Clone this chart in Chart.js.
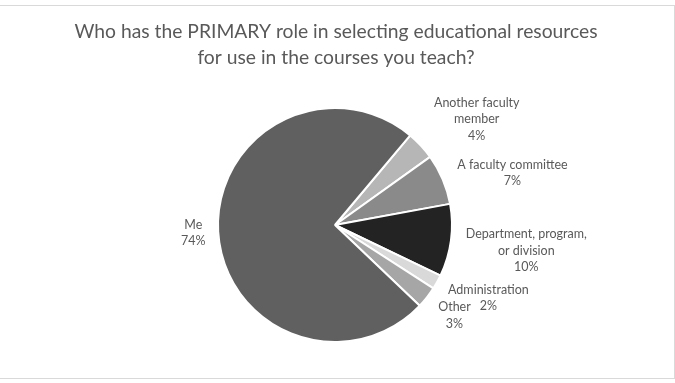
<!DOCTYPE html>
<html>
<head>
<meta charset="utf-8">
<script src="https://cdn.jsdelivr.net/npm/chart.js@4"></script>
<style>
  html, body { margin: 0; padding: 0; background: #fff; }
  #wrap { position: relative; width: 675px; height: 383px; overflow: hidden; }
  #frame { position: absolute; left: -1px; top: 5px; width: 674px; height: 372px; border: 1px solid #d9d9d9; }
  canvas { position: absolute; left: 0; top: 0; }
</style>
</head>
<body>
<div id="wrap">
  <div id="frame"></div>
  <canvas id="pie" width="675" height="383"></canvas>
</div>
<script>
// ─── DATA ─────────────────────────────────────────────────────────────
const titleLines = ['Who has the PRIMARY role in selecting educational resources', 'for use in the courses you teach?'];
const categories = ['Another faculty member', 'A faculty committee', 'Department, program, or division', 'Administration', 'Other', 'Me'];
const shares     = [4, 7, 10, 2, 3, 74];
const labelLines = [
  ['Another faculty', 'member'],
  ['A faculty committee'],
  ['Department, program,', 'or division'],
  ['Administration'],
  ['Other'],
  ['Me'],
];

// ─── STYLE / LAYOUT ───────────────────────────────────────────────────
const sliceColors = ['#b6b6b6', '#8a8a8a', '#232323', '#d9d9d9', '#a6a6a6', '#606060'];
const labelPad    = [60, 68, 76, 53, 33, 25];   // px beyond the rim
const labelNudge  = [6, 6.6, 0, -3.7, -1, 0];   // degrees, clockwise
const textColor   = '#595959';
const fontFam     = 'Lato, "Open Sans", sans-serif';

const sliceLabels = {
  id: 'sliceLabels',
  afterDatasetsDraw(chart) {
    const { ctx } = chart;
    const meta = chart.getDatasetMeta(0);
    ctx.save();
    ctx.font = '12.5px ' + fontFam;
    ctx.fillStyle = textColor;
    ctx.textAlign = 'center';
    ctx.textBaseline = 'middle';
    meta.data.forEach((arc, i) => {
      const { x, y, startAngle, endAngle, outerRadius } = arc.getProps(['x', 'y', 'startAngle', 'endAngle', 'outerRadius'], true);
      const a = (startAngle + endAngle) / 2 + labelNudge[i] * Math.PI / 180;
      const r = outerRadius + labelPad[i];
      const lx = x + Math.cos(a) * r;
      const ly = y + Math.sin(a) * r;
      const lines = [...labelLines[i], shares[i] + '%'];
      const lh = 16.5;
      const top = ly - (lines.length - 1) * lh / 2;
      lines.forEach((t, k) => ctx.fillText(t, lx, top + k * lh));
    });
    ctx.restore();
  },
};

const chartTitle = {
  id: 'chartTitle',
  afterDraw(chart) {
    const { ctx } = chart;
    ctx.save();
    ctx.font = '19.3px ' + fontFam;
    ctx.fillStyle = textColor;
    ctx.textAlign = 'center';
    ctx.textBaseline = 'middle';
    titleLines.forEach((t, k) => ctx.fillText(t, 336, 32 + k * 26));
    ctx.restore();
  },
};

new Chart(document.getElementById('pie'), {
  type: 'pie',
  data: {
    labels: categories,
    datasets: [{
      data: shares,
      backgroundColor: sliceColors,
      borderColor: '#ffffff',
      borderWidth: 2,
    }],
  },
  options: {
    responsive: false,
    animation: false,
    rotation: 40,
    layout: { padding: { top: 107, bottom: 40, left: 0, right: 5 } },
    plugins: {
      legend: { display: false },
      tooltip: { enabled: false },
    },
  },
  plugins: [sliceLabels, chartTitle],
});
</script>
</body>
</html>
